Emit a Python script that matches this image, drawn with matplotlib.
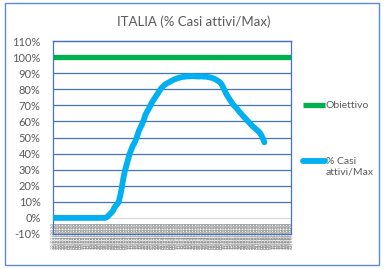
import matplotlib
matplotlib.use("Agg")
import matplotlib.pyplot as plt
from matplotlib.patches import Rectangle
import datetime as dt

plt.rcParams['font.family'] = ['Lato', 'DejaVu Sans']

title = "ITALIA (% Casi attivi/Max)"
start_date = dt.date(2020, 1, 22)
n_days = 153
dates = [(start_date + dt.timedelta(days=i)).strftime("%d/%m/%Y") for i in range(n_days)]

obiettivo_value = 100.0

casi_attivi = [
    0, 0, 0, 0, 0, 0, 0, 0, 0, 0,
    0, 0, 0, 0, 0, 0, 0, 0, 0, 0,
    0, 0, 0, 0, 0, 0, 0, 0, 0, 0,
    0, 0, 0, 0, 0.3, 1.0, 2.0, 3.0, 4.0, 6.0,
    7.5, 8.5, 10.0, 14.0, 19.0, 25.0, 29.5, 33.0, 36.5, 40.0,
    42.5, 45.0, 46.5, 49.0, 51.5, 54.5, 56.5, 58.5, 61.0, 64.0,
    66.0, 67.5, 69.5, 71.5, 73.0, 74.5, 76.0, 77.5, 79.0, 80.5,
    81.5, 82.5, 83.2, 83.8, 84.3, 84.8, 85.4, 85.9, 86.3, 86.7,
    87.0, 87.3, 87.5, 87.7, 87.8, 87.9, 88.0, 88.0, 88.1, 88.1,
    88.1, 88.0, 88.0, 87.9, 88.0, 88.0, 87.9, 87.8, 87.8, 87.6,
    87.4, 87.2, 86.9, 86.5, 86.0, 85.4, 84.8, 84.0, 82.5, 80.5,
    78.5, 76.5, 75.0, 73.5, 72.0, 70.5, 69.5, 68.5, 67.2, 66.0,
    65.0, 63.8, 62.8, 61.7, 60.5, 59.5, 58.5, 57.5, 56.5, 55.8,
    54.8, 54.0, 53.0, 51.5, 49.5, 47.0,
]
y_ticks = [-10, 0, 10, 20, 30, 40, 50, 60, 70, 80, 90, 100, 110]

W, H = 384, 269
fig = plt.figure(figsize=(W / 100, H / 100), dpi=100)
ax = fig.add_axes([53 / W, 1 - 234 / H, (291 - 53) / W, (234 - 41) / H])

blue = '#4472C4'
grey_txt = '#595959'

ax.spines['bottom'].set_position(('data', 0))
ax.spines['bottom'].set_visible(False)

x = list(range(n_days))
ax.plot(x, [obiettivo_value] * n_days, color='#00B050', lw=3.8, label='Obiettivo',
        solid_capstyle='butt', zorder=3)
ax.plot(x[:len(casi_attivi)], casi_attivi, color='#00B0F0', lw=4.2,
        label='% Casi\nattivi/Max', solid_capstyle='round', solid_joinstyle='round', zorder=4)

ax.set_xlim(0, n_days - 1)
ax.set_ylim(-10, 110)
ax.set_yticks(y_ticks)
ax.set_yticklabels([f"{v}%" for v in y_ticks])
ax.yaxis.grid(True, color=blue, lw=0.9)
ax.set_axisbelow(True)
gl = ax.get_ygridlines()
gl[1].set_color('#D9D9D9')
gl[0].set_clip_on(False)
gl[-1].set_clip_on(False)

ax.set_xticks(x)
ax.set_xticklabels(dates, rotation=90, fontsize=3.4, color='#8C8C8C',
                   family=['DejaVu Sans'], va='top', ha='center')
ax.tick_params(axis='x', length=0, pad=3)
ax.tick_params(axis='y', length=0, pad=9, labelsize=8, labelcolor=grey_txt)
for s in ['left', 'right', 'top']:
    ax.spines[s].set_color(blue)
    ax.spines[s].set_linewidth(0.9)

fig.text(194 / W, 1 - 22 / H, title, ha='center', va='center', fontsize=9.5, color=grey_txt)

leg = ax.legend(loc='upper left', bbox_to_anchor=(303 / W, 1 - 101 / H),
                bbox_transform=fig.transFigure, frameon=False, fontsize=7.5,
                labelcolor=grey_txt, handlelength=2.1, handletextpad=0.1,
                labelspacing=4.5, borderpad=0, borderaxespad=0)
for row in leg._legend_handle_box.get_children()[0].get_children():
    row.align = 'top'

fig.add_artist(Rectangle((5 / W, 1 - 265 / H), (W - 5.5) / W - 5 / W, (265 - 3) / H,
                         transform=fig.transFigure, fill=False, edgecolor='#5B8BD0', lw=1))

fig.savefig('out.png', dpi=100)
